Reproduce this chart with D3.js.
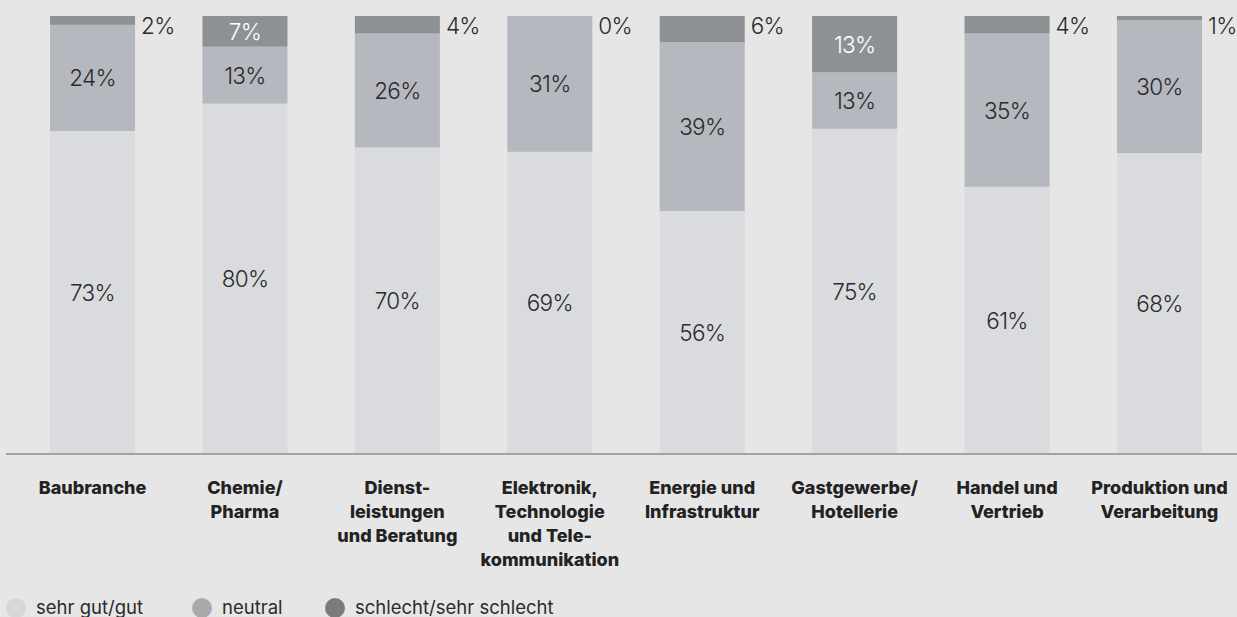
<!DOCTYPE html>
<html>
<head>
<meta charset="utf-8">
<script src="https://cdn.jsdelivr.net/npm/d3@7"></script>
<style>
  body { margin: 0; background: #e6e6e6; }
  svg { display: block; }
</style>
</head>
<body>
<svg id="chart" width="1237" height="617"></svg>
<script>
var categories = ["Baubranche", "Chemie/\nPharma", "Dienst-\nleistungen\nund Beratung",
                  "Elektronik,\nTechnologie\nund Tele-\nkommunikation", "Energie und\nInfrastruktur",
                  "Gastgewerbe/\nHotellerie", "Handel und\nVertrieb", "Produktion und\nVerarbeitung"];
var gut      = [73, 80, 70, 69, 56, 75, 61, 68];
var neutral  = [24, 13, 26, 31, 39, 13, 35, 30];
var schlecht = [2, 7, 4, 0, 6, 13, 4, 1];
var legendLabels = ["sehr gut/gut", "neutral", "schlecht/sehr schlecht"];

var barColors = ["#dadbdf", "#b6b8bf", "#8e9194"];
var dotColors = ["#d6d6d6", "#a9a9a9", "#7b7b7b"];

var svg = d3.select("#chart");
var W = 1237, H = 617;

svg.append("rect").attr("width", W).attr("height", H).attr("fill", "#e6e6e6");

var x = d3.scaleBand().domain(categories).range([50, 1202]).paddingInner(0.442).paddingOuter(0);
var y = d3.scaleLinear().domain([0, 1]).range([454, 16]);

var rows = categories.map(function(c, i) {
  return {cat: c, gut: gut[i], neutral: neutral[i], schlecht: schlecht[i]};
});
var keys = ["gut", "neutral", "schlecht"];
// answers don't always add to exactly 100 %, bars are shown full height
var series = d3.stack().keys(keys).offset(d3.stackOffsetExpand)(rows);

var layer = svg.selectAll("g.layer")
  .data(series)
  .enter().append("g")
  .attr("class", "layer")
  .attr("fill", function(d, i) { return barColors[i]; });

layer.selectAll("rect")
  .data(function(d) { return d; })
  .enter().append("rect")
  .attr("x", function(d) { return x(d.data.cat); })
  .attr("width", x.bandwidth())
  .attr("y", function(d) { return y(d[1]); })
  .attr("height", function(d) { return y(d[0]) - y(d[1]); });

// value labels
var pctFont = "Inter, 'Open Sans', sans-serif";
series.forEach(function(s, si) {
  s.forEach(function(d) {
    var v = d.data[s.key];
    var inside = si < 2 || v >= 7;
    var t = svg.append("text")
      .attr("font-family", pctFont)
      .attr("font-weight", 300)
      .attr("font-size", 22.5)
      .attr("letter-spacing", -0.7)
      .attr("dominant-baseline", "central")
      .text(v + "%");
    if (inside) {
      t.attr("x", x(d.data.cat) + x.bandwidth() / 2)
        .attr("y", (y(d[0]) + y(d[1])) / 2)
        .attr("text-anchor", "middle")
        .attr("fill", si === 2 ? "#ffffff" : "#2b2b2b");
    } else {
      t.attr("x", x(d.data.cat) + x.bandwidth() + 6)
        .attr("y", y(d[1]) + 9)
        .attr("text-anchor", "start")
        .attr("fill", "#2b2b2b");
    }
  });
});

// baseline
svg.append("line")
  .attr("x1", 6).attr("x2", W)
  .attr("y1", y(0)).attr("y2", y(0))
  .attr("stroke", "#a3a3a3").attr("stroke-width", 2);

// category labels
categories.forEach(function(c) {
  var lines = c.split("\n");
  var t = svg.append("text")
    .attr("font-family", "Inter, Roboto, sans-serif")
    .attr("font-weight", 800)
    .attr("font-size", 18)
    .attr("fill", "#222")
    .attr("text-anchor", "middle");
  lines.forEach(function(l, li) {
    t.append("tspan")
      .attr("x", x(c) + x.bandwidth() / 2)
      .attr("y", 494 + li * 24)
      .text(l);
  });
});

// legend
var legendX = [16, 202, 335];
legendLabels.forEach(function(l, i) {
  svg.append("circle").attr("cx", legendX[i]).attr("cy", 608).attr("r", 10).attr("fill", dotColors[i]);
  svg.append("text")
    .attr("x", legendX[i] + 20).attr("y", 614)
    .attr("font-family", pctFont)
    .attr("font-weight", 400)
    .attr("font-size", 18.5)
    .attr("fill", "#2b2b2b")
    .text(l);
});
</script>
</body>
</html>
